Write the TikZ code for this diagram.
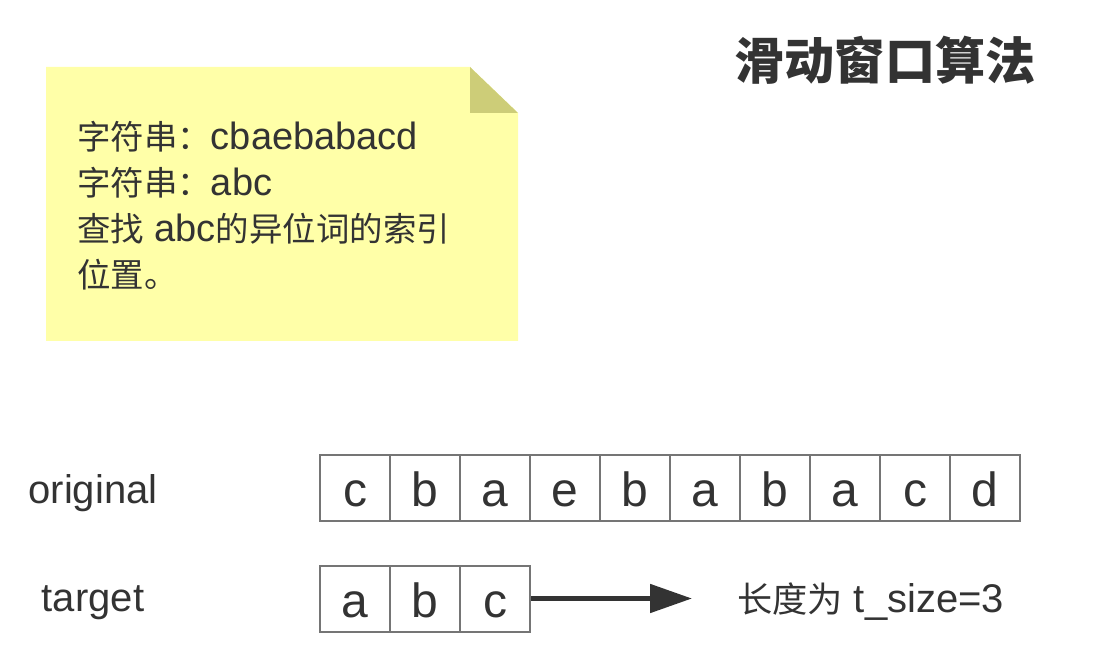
\documentclass[tikz,border=0pt]{standalone}
\usepackage{fontspec}
\setmainfont{Liberation Sans}
\newfontfamily\cjk[Scale=0.88]{Noto Sans CJK SC}
\usetikzlibrary{arrows.meta}
\definecolor{note}{HTML}{FFFFA8}
\definecolor{fold}{HTML}{CDCD78}
\definecolor{ink}{HTML}{333333}
\definecolor{edge}{HTML}{757575}
\tikzset{
  cell/.style={draw=edge, line width=2pt, minimum width=70pt, minimum height=66pt,
    inner sep=0pt, text=ink, font=\fontsize{48}{48}\selectfont,
    text height=37pt, text depth=0pt},
  lab/.style={text=ink, font=\fontsize{40}{40}\selectfont, inner sep=0pt},
  memo/.style={text=ink, font=\fontsize{38}{46}\selectfont, align=left, inner sep=0pt},
  head/.style={text=ink, font=\fontsize{57}{57}\selectfont\bfseries, inner sep=0pt},
  link/.style={draw=ink, line width=5pt, -{Triangle[length=42pt,width=28pt]}},
}

\begin{document}
\begin{tikzpicture}[x=1pt,y=-1pt]
  \useasboundingbox (0,0) rectangle (1112,668);

  % sticky note
  \fill[note] (46,67) -- (470,67) -- (518,113) -- (518,341) -- (46,341) -- cycle;
  \fill[fold] (470,67) -- (470,113) -- (518,113) -- cycle;
  \node[memo,anchor=north west] (memo) at (77,121)
    {{\cjk 字符串：}cbaebabacd\\{\cjk 字符串：}abc\\{\cjk 查找} abc{\cjk 的异位词的索引}\\{\cjk 位置。}};

  \node[head] (title) at (885,60) {\cjk 滑动窗口算法};

  % original string
  \node[lab] (orig) at (93,493) {original};
  \foreach \ch [count=\i] in {c,b,a,e,b,a,b,a,c,d}
    \node[cell] (o\i) at ({285+70*\i},487.5) {\ch};

  % target string
  \node[lab] (targ) at (93,603) {target};
  \foreach \ch [count=\i] in {a,b,c}
    \node[cell] (t\i) at ({285+70*\i},598.5) {\ch};

  \coordinate (tipend) at (692,598.5);
  \draw[link] (t3.east) -- (tipend);
  \node[lab,anchor=west] (size) at (737,602) {{\cjk 长度为} t\_size=3};
\end{tikzpicture}
\end{document}
